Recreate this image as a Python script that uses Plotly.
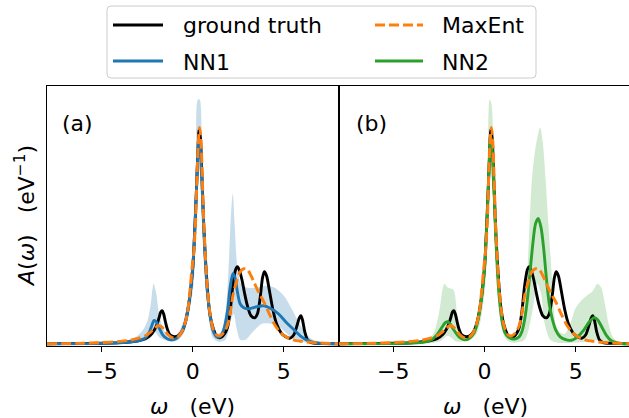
import plotly.graph_objects as go

# ---------------- data (omega in eV, A in eV^-1) ----------------
gt_w = [-8.0, -6.0, -5.0, -4.0, -3.5, -3.0, -2.6, -2.3, -2.1, -1.95, -1.85, -1.75, -1.68, -1.6, -1.5,
        -1.4, -1.25, -1.0, -0.8, -0.6, -0.4, -0.2, 0.0, 0.1, 0.2, 0.28, 0.35, 0.42, 0.5, 0.6, 0.7,
        0.8, 0.9, 1.0, 1.15, 1.3, 1.45, 1.6, 1.75, 1.9, 2.05, 2.2, 2.35, 2.45, 2.55, 2.7, 2.85, 3.0,
        3.2, 3.4, 3.55, 3.7, 3.83, 3.93, 4.05, 4.2, 4.4, 4.6, 4.85, 5.1, 5.35, 5.55, 5.72, 5.85,
        5.93, 6.02, 6.15, 6.3, 6.5, 7.0, 8.0]
gt_A = [0.0, 0.002, 0.003, 0.006, 0.009, 0.015, 0.025, 0.045, 0.07, 0.10, 0.13, 0.16, 0.165, 0.15, 0.11,
        0.075, 0.045, 0.035, 0.04, 0.06, 0.11, 0.21, 0.38, 0.55, 0.76, 0.95, 1.07, 1.03, 0.85, 0.6, 0.42,
        0.28, 0.18, 0.12, 0.07, 0.04, 0.03, 0.035, 0.05, 0.08, 0.16, 0.29, 0.37, 0.385, 0.37, 0.32, 0.25, 0.19,
        0.14, 0.13, 0.15, 0.23, 0.33, 0.36, 0.34, 0.27, 0.17, 0.10, 0.055, 0.035, 0.028, 0.045, 0.09, 0.13,
        0.14, 0.12, 0.06, 0.02, 0.006, 0.002, 0.0]

me_w = [-8.0, -6.0, -5.0, -4.0, -3.5, -3.0, -2.6, -2.3, -2.1, -1.9, -1.75, -1.55, -1.35, -1.1, -0.9,
        -0.7, -0.5, -0.3, -0.15, -0.05, 0.05, 0.15, 0.22, 0.3, 0.38, 0.45, 0.52, 0.6, 0.7, 0.8, 0.95,
        1.1, 1.3, 1.5, 1.7, 1.9, 2.05, 2.2, 2.4, 2.6, 2.8, 3.0, 3.2, 3.4, 3.6, 3.9, 4.2, 4.5, 4.8,
        5.1, 5.5, 6.0, 6.5, 7.0, 8.0]
me_A = [0.0, 0.003, 0.006, 0.012, 0.017, 0.027, 0.04, 0.06, 0.078, 0.09, 0.088, 0.07, 0.045, 0.03, 0.03,
        0.045, 0.08, 0.15, 0.27, 0.37, 0.45, 0.6, 0.8, 1.0, 1.08, 1.02, 0.85, 0.62, 0.43, 0.28, 0.15,
        0.08, 0.045, 0.04, 0.055, 0.09, 0.15, 0.24, 0.31, 0.36, 0.375, 0.37, 0.34, 0.30, 0.26, 0.21, 0.15,
        0.095, 0.058, 0.036, 0.02, 0.012, 0.007, 0.004, 0.001]

nn1_w = [-8.0, -5.0, -4.0, -3.0, -2.6, -2.4, -2.25, -2.12, -2.0, -1.85, -1.65, -1.4, -1.1, -0.85, -0.6,
         -0.4, -0.2, 0.0, 0.1, 0.2, 0.28, 0.33, 0.4, 0.5, 0.6, 0.7, 0.8, 0.95, 1.1, 1.3, 1.5, 1.7,
         1.9, 2.05, 2.2, 2.32, 2.45, 2.6, 2.8, 3.1, 3.5, 3.9, 4.3, 4.7, 5.1, 5.5, 5.9, 6.3, 6.7, 7.2, 8.0]
nn1_A = [0.0, 0.002, 0.005, 0.015, 0.03, 0.055, 0.09, 0.117, 0.11, 0.08, 0.045, 0.025, 0.02, 0.03, 0.06,
         0.11, 0.21, 0.38, 0.54, 0.76, 0.95, 1.03, 0.99, 0.82, 0.58, 0.40, 0.26, 0.14, 0.07, 0.035, 0.035, 0.07,
         0.16, 0.28, 0.35, 0.33, 0.26, 0.20, 0.18, 0.175, 0.185, 0.19, 0.175, 0.15, 0.11, 0.075, 0.04, 0.017,
         0.006, 0.001, 0.0]

nn1_hi_w = [-8.0, -5.0, -4.0, -3.2, -2.8, -2.5, -2.3, -2.15, -2.0, -1.85, -1.6, -1.3, -1.0, -0.7, -0.4,
            -0.15, 0.05, 0.18, 0.28, 0.38, 0.5, 0.62, 0.75, 0.9, 1.1, 1.3, 1.55, 1.8, 1.95, 2.1, 2.2,
            2.3, 2.45, 2.65, 3.0, 3.5, 4.0, 4.5, 5.0, 5.4, 5.8, 6.2, 6.6, 7.0, 8.0]
nn1_hi_A = [0.0, 0.004, 0.01, 0.03, 0.06, 0.11, 0.2, 0.30, 0.25, 0.15, 0.07, 0.04, 0.035, 0.07, 0.15,
            0.3, 0.55, 0.9, 1.22, 1.22, 0.95, 0.62, 0.38, 0.2, 0.09, 0.05, 0.06, 0.16, 0.35, 0.65, 0.75,
            0.6, 0.38, 0.3, 0.28, 0.28, 0.29, 0.28, 0.24, 0.18, 0.11, 0.05, 0.02, 0.005, 0.0]
nn1_lo_w = [-8.0, -3.0, -2.3, -2.1, -1.8, -1.2, -0.8, -0.5, -0.2, 0.05, 0.2, 0.3, 0.4, 0.55, 0.7, 0.9,
            1.1, 1.4, 1.8, 2.1, 2.25, 2.4, 2.6, 2.9, 3.3, 3.8, 4.3, 4.8, 5.3, 5.8, 6.5, 8.0]
nn1_lo_A = [0.0, 0.005, 0.03, 0.06, 0.03, 0.01, 0.02, 0.05, 0.15, 0.3, 0.65, 0.88, 0.85, 0.6, 0.3, 0.12,
            0.03, 0.01, 0.02, 0.12, 0.15, 0.08, 0.02, 0.02, 0.06, 0.10, 0.10, 0.08, 0.04, 0.015, 0.002, 0.0]

nn2_w = [-8.0, -5.0, -4.0, -3.3, -2.9, -2.6, -2.35, -2.15, -2.0, -1.85, -1.65, -1.4, -1.1, -0.85, -0.6,
         -0.4, -0.2, 0.0, 0.1, 0.2, 0.28, 0.33, 0.4, 0.5, 0.6, 0.7, 0.8, 0.95, 1.1, 1.3, 1.5, 1.7, 1.9,
         2.05, 2.2, 2.35, 2.5, 2.65, 2.8, 2.95, 3.1, 3.25, 3.4, 3.55, 3.7, 3.9, 4.15, 4.5, 4.8, 5.1,
         5.45, 5.75, 6.0, 6.2, 6.45, 6.7, 6.95, 7.3, 8.0]
nn2_A = [0.0, 0.001, 0.003, 0.008, 0.02, 0.045, 0.08, 0.105, 0.11, 0.095, 0.065, 0.035, 0.02, 0.025, 0.05,
         0.10, 0.20, 0.37, 0.54, 0.76, 0.95, 1.04, 1.0, 0.82, 0.58, 0.38, 0.24, 0.12, 0.06, 0.035, 0.025, 0.025, 0.035,
         0.06, 0.12, 0.22, 0.36, 0.50, 0.60, 0.626, 0.58, 0.47, 0.32, 0.20, 0.13, 0.07, 0.035, 0.02, 0.018, 0.035,
         0.07, 0.11, 0.13, 0.12, 0.08, 0.04, 0.015, 0.004, 0.0]

nn2_hi_w = [-8.0, -4.0, -3.2, -2.8, -2.5, -2.3, -2.2, -2.0, -1.7, -1.5, -1.3, -1.0, -0.7, -0.4, -0.15,
            0.05, 0.18, 0.28, 0.38, 0.5, 0.62, 0.75, 0.9, 1.1, 1.4, 1.7, 1.95, 2.15, 2.25, 2.4, 2.6,
            2.8, 3.05, 3.2, 3.35, 3.5, 3.7, 3.9, 4.1, 4.4, 4.7, 5.0, 5.35, 5.6, 5.9, 6.2, 6.4, 6.6,
            6.8, 7.0, 7.3, 8.0]
nn2_hi_A = [0.0, 0.005, 0.015, 0.05, 0.15, 0.27, 0.30, 0.28, 0.27, 0.15, 0.06, 0.03, 0.06, 0.14, 0.3,
            0.55, 0.9, 1.22, 1.2, 0.95, 0.6, 0.35, 0.17, 0.07, 0.03, 0.03, 0.07, 0.15, 0.2, 0.45, 0.82,
            0.98, 1.08, 1.0, 0.82, 0.6, 0.33, 0.1, 0.06, 0.05, 0.1, 0.18, 0.22, 0.24, 0.26, 0.3, 0.28, 0.2,
            0.1, 0.04, 0.01, 0.0]
nn2_lo_w = [-8.0, -2.5, -2.0, -1.5, -0.5, 0.0, 0.2, 0.3, 0.4, 0.55, 0.7, 0.9, 1.2, 1.6, 2.2, 2.6, 2.9,
            3.1, 3.3, 3.6, 4.0, 5.5, 6.0, 6.5, 8.0]
nn2_lo_A = [0.0, 0.01, 0.04, 0.01, 0.04, 0.25, 0.65, 0.85, 0.82, 0.55, 0.3, 0.1, 0.02, 0.005, 0.02, 0.15, 0.3,
            0.25, 0.1, 0.02, 0.005, 0.01, 0.02, 0.01, 0.0]

tick_vals = [-5, 0, 5]
legend_names = ["ground truth", "MaxEnt", "NN1", "NN2"]
panel_labels = ["(a)", "(b)"]

# ---------------- styling ----------------
C_BLACK = "#000000"
C_BLUE = "#1f77b4"
C_ORANGE = "#ff7f0e"
C_GREEN = "#2ca02c"
FONT = "DejaVu Sans"
FS = 22
LW = 2.9
DASH = "10px,4px"

W, H = 629, 418
ML, MR, MT, MB = 47, 0, 86, 72
PW, PH = W - ML - MR, H - MT - MB


def px_x(p):  # figure pixel -> paper x
    return (p - ML) / PW


def px_y(p):  # figure pixel (from top) -> paper y
    return (H - MB - p) / PH


fig = go.Figure()


def band(xl, yl, xh, yh, color, xa, ya):
    fig.add_trace(go.Scatter(x=xl, y=yl, mode="lines", line=dict(width=0, shape="spline", smoothing=0.8),
                             showlegend=False, hoverinfo="skip", xaxis=xa, yaxis=ya))
    fig.add_trace(go.Scatter(x=xh, y=yh, mode="lines", line=dict(width=0, shape="spline", smoothing=0.8),
                             fill="tonexty", fillcolor=color, showlegend=False, hoverinfo="skip",
                             xaxis=xa, yaxis=ya))


def curve(x, y, color, name, xa, ya, dash="solid"):
    fig.add_trace(go.Scatter(x=x, y=y, mode="lines", name=name, showlegend=False,
                             line=dict(color=color, width=LW, dash=dash, shape="spline", smoothing=0.8),
                             xaxis=xa, yaxis=ya))


# panel (a)
band(nn1_lo_w, nn1_lo_A, nn1_hi_w, nn1_hi_A, "rgba(31,119,180,0.25)", "x", "y")
curve(gt_w, gt_A, C_BLACK, legend_names[0], "x", "y")
curve(nn1_w, nn1_A, C_BLUE, legend_names[2], "x", "y")
curve(me_w, me_A, C_ORANGE, legend_names[1], "x", "y", dash=DASH)

# panel (b)
band(nn2_lo_w, nn2_lo_A, nn2_hi_w, nn2_hi_A, "rgba(44,160,44,0.22)", "x2", "y2")
curve(gt_w, gt_A, C_BLACK, legend_names[0], "x2", "y2")
curve(nn2_w, nn2_A, C_GREEN, legend_names[3], "x2", "y2")
curve(me_w, me_A, C_ORANGE, legend_names[1], "x2", "y2", dash=DASH)

axis_common = dict(showgrid=False, zeroline=False, showline=True, linecolor="black", linewidth=1.2,
                   ticks="outside", ticklen=5, tickwidth=1.2, tickcolor="black",
                   tickfont=dict(family=FONT, size=FS, color="black"), tickvals=tick_vals)
yaxis_common = dict(showgrid=False, zeroline=False, showline=True, linecolor="black", linewidth=1.2,
                    showticklabels=False, ticks="", range=[-0.011, 1.2875])

split = px_x(338.5)
fig.update_layout(
    width=W, height=H,
    margin=dict(l=ML, r=MR, t=MT, b=MB, autoexpand=False),
    paper_bgcolor="white", plot_bgcolor="white",
    xaxis=dict(domain=[0, split], range=[-8, 8], mirror=True, anchor="y", **axis_common),
    xaxis2=dict(domain=[split, 1], range=[-8, 7.92], mirror=True, anchor="y2", **axis_common),
    yaxis=dict(domain=[0, 1], anchor="x", mirror=True, **yaxis_common),
    yaxis2=dict(domain=[0, 1], anchor="x2", mirror=False, **yaxis_common),
    showlegend=False,
    font=dict(family=FONT, size=FS, color="black"),
)

# ---------------- legend box (drawn as layout shapes + text) ----------------
bx0, bx1, by0, by1, r = px_x(107), px_x(536), px_y(78), px_y(6), 4
rx, ry = r / PW, r / PH
box_path = (f"M {bx0+rx},{by1} L {bx1-rx},{by1} Q {bx1},{by1} {bx1},{by1-ry} "
            f"L {bx1},{by0+ry} Q {bx1},{by0} {bx1-rx},{by0} L {bx0+rx},{by0} "
            f"Q {bx0},{by0} {bx0},{by0+ry} L {bx0},{by1-ry} Q {bx0},{by1} {bx0+rx},{by1} Z")
shapes = [dict(type="path", path=box_path, xref="paper", yref="paper",
               line=dict(color="#cccccc", width=1), fillcolor="rgba(255,255,255,0.8)", layer="above")]

legend_items = [  # (name, color, dash, line x0, line x1, text x, row y)
    (legend_names[0], C_BLACK, "solid", 113, 163, 181, 25),
    (legend_names[1], C_ORANGE, DASH, 375, 423, 440, 25),
    (legend_names[2], C_BLUE, "solid", 113, 163, 181, 61),
    (legend_names[3], C_GREEN, "solid", 375, 423, 440, 61),
]
annos = []
for name, col, dash, lx0, lx1, tx, ry_ in legend_items:
    shapes.append(dict(type="line", xref="paper", yref="paper", x0=px_x(lx0), x1=px_x(lx1),
                       y0=px_y(ry_), y1=px_y(ry_), line=dict(color=col, width=LW, dash=dash), layer="above"))
    annos.append(dict(text=name, x=px_x(tx), y=px_y(ry_ + 1), xref="paper", yref="paper", showarrow=False,
                      xanchor="left", yanchor="middle", font=dict(family=FONT, size=FS, color="black")))

annos += [
    dict(text=panel_labels[0], x=px_x(77), y=px_y(123), xref="paper", yref="paper", showarrow=False,
         xanchor="center", yanchor="middle", font=dict(family=FONT, size=FS)),
    dict(text=panel_labels[1], x=px_x(371), y=px_y(123), xref="paper", yref="paper", showarrow=False,
         xanchor="center", yanchor="middle", font=dict(family=FONT, size=FS)),
    dict(text="<i>ω</i>\u00a0\u00a0\u00a0(eV)", x=px_x(192.5), y=px_y(406), xref="paper", yref="paper",
         showarrow=False, xanchor="center", yanchor="middle", font=dict(family=FONT, size=FS)),
    dict(text="<i>ω</i>\u00a0\u00a0\u00a0(eV)", x=px_x(485), y=px_y(406), xref="paper", yref="paper",
         showarrow=False, xanchor="center", yanchor="middle", font=dict(family=FONT, size=FS)),
    dict(text="<i>A</i>(<i>ω</i>)\u00a0\u00a0\u00a0(eV<sup>−1</sup>)", x=px_x(25), y=px_y(216), xref="paper",
         yref="paper", showarrow=False, textangle=-90, xanchor="center", yanchor="middle",
         font=dict(family=FONT, size=FS)),
]
fig.update_layout(annotations=annos, shapes=shapes)

fig.write_html("out.html", config={"displayModeBar": False},
               post_script="document.body.style.margin='0px';document.body.style.overflow='hidden';")
